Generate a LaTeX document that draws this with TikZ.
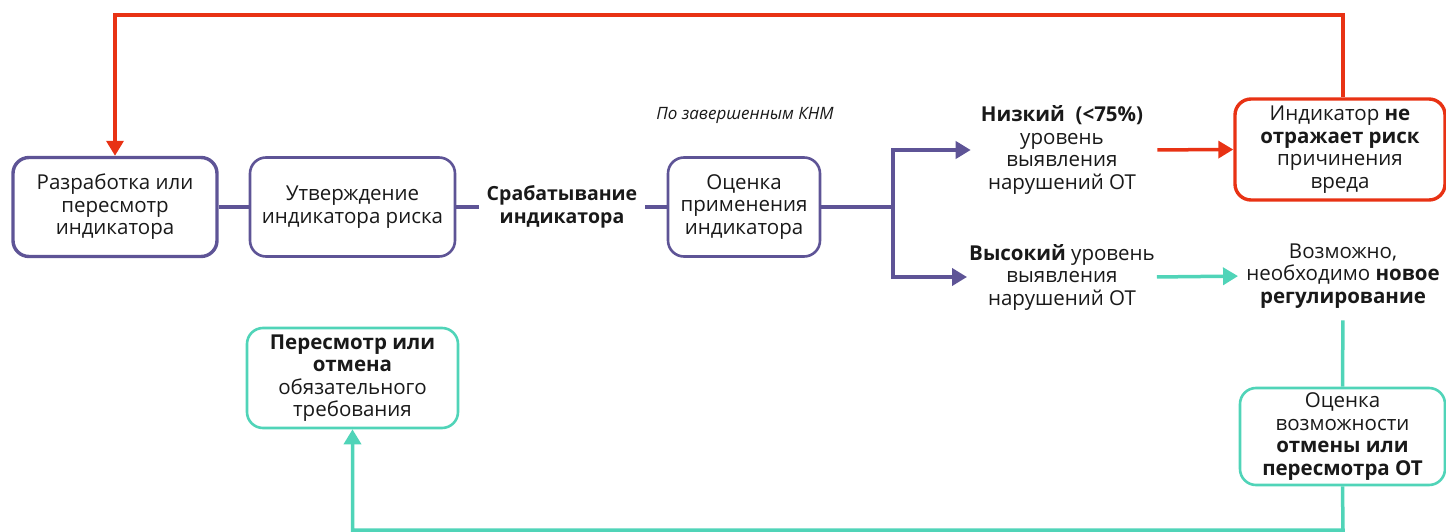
\documentclass[tikz,border=0pt]{standalone}
\usepackage{fontspec}
\setmainfont{Open Sans}
\usetikzlibrary{arrows.meta}
\definecolor{pur}{RGB}{94,84,150}
\definecolor{rd}{RGB}{232,50,20}
\definecolor{tl}{RGB}{80,212,184}
\definecolor{ink}{RGB}{25,25,25}
\begin{document}
\begin{tikzpicture}[x=1pt,y=-1pt,
  every node/.style={text=ink,font=\fontsize{20.5}{22.5}\selectfont},
  box/.style={draw,rounded corners=16pt,align=center,inner sep=0pt},
  pbox/.style={box,draw=pur,line width=2.6pt},
  lbl/.style={align=center,inner sep=0pt},
  pline/.style={draw=pur,line width=3.5pt},
  rline/.style={draw=rd,line width=3.5pt},
  tline/.style={draw=tl,line width=3.5pt},
  tip/.style={-{Triangle[length=15pt,width=17pt]}}
]
\useasboundingbox (0,0) rectangle (1446,532);
% nodes
\node[pbox,line width=3.4pt,minimum width=204pt,minimum height=99pt] (A) at (115,207) {Разработка или\\пересмотр\\индикатора};
\node[pbox,minimum width=205pt,minimum height=99pt] (B) at (352.5,207) {Утверждение\\индикатора риска};
\node[lbl,font=\fontsize{19.5}{22.5}\selectfont\bfseries,inner xsep=8pt] (T) at (562,207) {Срабатывание\\индикатора};
\node[pbox,minimum width=152pt,minimum height=99pt] (C) at (744,207) {Оценка\\применения\\индикатора};
\node[lbl,font=\fontsize{17}{20}\selectfont\itshape] (N) at (745,115) {По завершенным КНМ};
\node[lbl] (L) at (1062,150) {\textbf{Низкий\ \ (<75\%)}\\уровень\\выявления\\нарушений ОТ};
\node[lbl] (H) at (1062,277) {\textbf{Высокий} уровень\\выявления\\нарушений ОТ};
\node[box,draw=rd,line width=3.4pt,minimum width=210pt,minimum height=101pt] (R) at (1340,149.5) {Индикатор \textbf{не}\\\textbf{отражает риск}\\причинения\\вреда};
\node[lbl] (P) at (1343,276) {Возможно,\\необходимо \textbf{новое}\\\textbf{регулирование}};
\node[box,draw=tl,line width=2.6pt,minimum width=205pt,minimum height=97pt] (D) at (1342.5,436.5) {Оценка\\возможности\\\textbf{отмены или}\\\textbf{пересмотра ОТ}};
\node[box,draw=tl,line width=2.6pt,minimum width=211pt,minimum height=100pt] (E) at (352.5,378) {\textbf{Пересмотр или}\\\textbf{отмена}\\обязательного\\требования};
% coordinates
\coordinate (br) at (893,207);
\coordinate (top) at (1343,15);
\coordinate (bot) at (1343,530);
% connectors
\draw[pline] (A.east) -- (B.west);
\draw[pline] (B.east) -- (T.west);
\draw[pline] (T.east) -- (C.west);
\draw[pline,line width=4.5pt] (C.east) -- (br);
\draw[pline,line width=4pt,tip,shorten >=10pt] (br) |- (L.west);
\draw[pline,line width=4pt,tip,shorten >=2pt] (br) |- (H.west);
\draw[rline,tip,shorten <=14pt] (L.east) -- (R.west);
\draw[rline,tip] (R.north -| top) -- (top) -| (A.north);
\draw[tline,tip,shorten <=2pt,shorten >=8pt] (H.east) -- (P.west);
\draw[tline,shorten <=12pt] (P.south) -- (D.north);
\draw[tline,tip] (D.south) -- (bot) -| (E.south);
\end{tikzpicture}
\end{document}
